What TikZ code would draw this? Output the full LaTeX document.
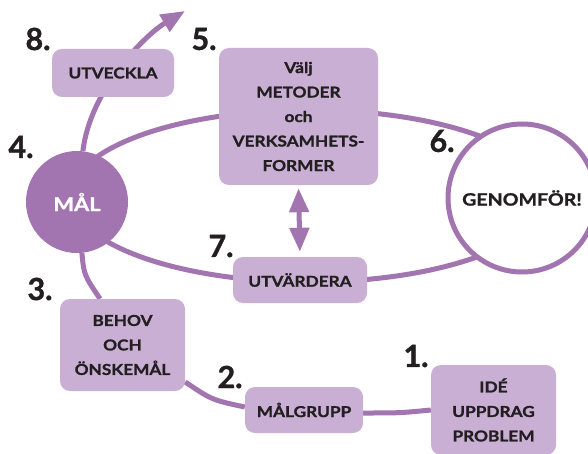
\documentclass[tikz,border=0pt]{standalone}
\usepackage{fontspec}
\setmainfont{Lato}[FakeStretch=1.15, BoldFeatures={FakeBold=1.2}]
\newfontfamily\numfont{Lato}[BoldFeatures={FakeBold=1.2}]
\usetikzlibrary{arrows.meta,backgrounds}
\definecolor{dpurple}{HTML}{A274B0}
\definecolor{lpurple}{HTML}{C9AFD4}
\definecolor{txt}{HTML}{231F20}
\tikzset{
  box/.style={rectangle, rounded corners=10pt, fill=lpurple, text=txt,
    font=\bfseries\fontsize{15}{24.5}\selectfont, align=center, inner sep=0pt},
  num/.style={text=txt, font=\numfont\bfseries\fontsize{30.5}{32}\selectfont, inner sep=0pt},
  conn/.style={draw=dpurple, line width=5pt},
  headtip/.tip={Triangle[length=24pt,width=19pt]},
}
\begin{document}
\begin{tikzpicture}[x=1pt,y=-1pt]
\useasboundingbox (0,0) rectangle (588,454);
% circles
\node[circle, fill=dpurple, minimum size=102pt, inner sep=0pt, text=white,
  font=\bfseries\fontsize{19}{22}\selectfont] (mal) at (77,202) {MÅL};
\node[circle, draw=dpurple, line width=5pt, fill=white, minimum size=148pt, inner sep=0pt, text=txt,
  font=\bfseries\fontsize{17}{20}\selectfont] (gen) at (522,198) {GENOMFÖR!};
% boxes
\node[box, minimum width=122pt, minimum height=48pt] (utv) at (113,73) {UTVECKLA};
\node[box, minimum width=159pt, minimum height=137pt] (met) at (298.5,116.5)
  {Välj\\METODER\\och\\VERKSAMHETS-\\FORMER};
\node[box, minimum width=134pt, minimum height=46pt] (utvard) at (300,280) {UTVÄRDERA};
\node[box, minimum width=125pt, minimum height=92pt] (beh) at (122.5,345) {BEHOV\\OCH\\ÖNSKEMÅL};
\node[box, minimum width=118pt, minimum height=46pt] (mgr) at (304,410) {MÅLGRUPP};
\node[box, minimum width=125pt, minimum height=90pt] (ide) at (493.5,410) {IDÉ\\UPPDRAG\\PROBLEM};
% numbers
\node[num] (n1) at (416,356) {1.};
\node[num] (n2) at (230,377) {2.};
\node[num] (n3) at (40,289) {3.};
\node[num] (n4) at (21,147) {4.};
\node[num] (n5) at (204,39) {5.};
\node[num] (n6) at (442,141) {6.};
\node[num] (n7) at (221,246) {7.};
\node[num] (n8) at (38,39) {8.};
\coordinate (tip) at (185,11);
% connectors
\begin{scope}[on background layer]
  \draw[conn] (309,196) ellipse [x radius=238pt, y radius=86pt];
  \draw[conn, -{headtip}] (mal) .. controls (90,90) and (145,35) .. (tip);
  \draw[conn] (mal) .. controls (84,275) .. (beh.north west -| 100,0);
  \draw[conn] (beh.east |- 0,382) .. controls (212,400) .. (mgr.west |- 0,407);
  \draw[conn] (mgr.east |- 0,413) .. controls (400,413) .. (ide.west |- 0,410);
\end{scope}
\draw[draw=dpurple, line width=5pt, {headtip}-{headtip}, shorten <=3pt, shorten >=5pt] (met.south) -- (utvard.north);
\end{tikzpicture}
\end{document}
